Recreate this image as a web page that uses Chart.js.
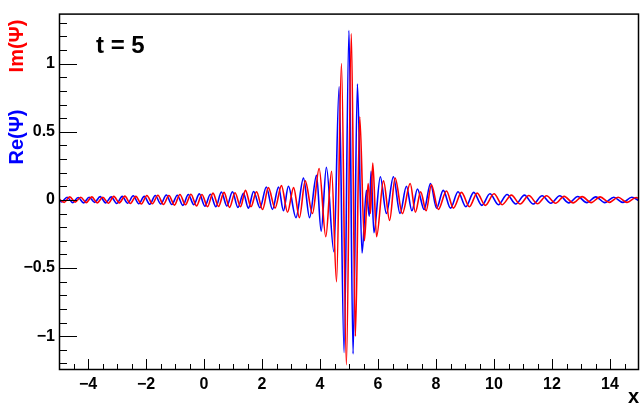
<!DOCTYPE html>
<html>
<head>
<meta charset="utf-8">
<title>Psi t = 5</title>
<script src="https://cdn.jsdelivr.net/npm/chart.js@4.4.1/dist/chart.umd.min.js"></script>
<style>
html, body { margin: 0; padding: 0; background: #fff; }
canvas { display: block; }
</style>
</head>
<body>
<canvas id="grafico" width="640" height="405"></canvas>
<script>
// Re(Psi) - extremos
const reX = [-5.00, -4.91, -4.72, -4.53, -4.34, -4.15, -3.96, -3.77, -3.58, -3.39, -3.20, -3.01, -2.82, -2.63, -2.44, -2.25,
  -2.06, -1.87, -1.68, -1.49, -1.30, -1.11, -0.92, -0.73, -0.54, -0.35, -0.16, 0.03, 0.22, 0.41, 0.60, 0.79,
  0.98, 1.17, 1.36, 1.53, 1.71, 1.93, 2.15, 2.36, 2.57, 2.74, 2.91, 3.17, 3.43, 3.64, 3.88, 4.04,
  4.22, 4.48, 4.66, 4.83, 5.00, 5.14, 5.29, 5.45, 5.60, 5.70, 5.76, 5.86, 6.08, 6.29, 6.53, 6.76,
  6.98, 7.17, 7.36, 7.59, 7.81, 8.02, 8.25, 8.50, 8.76, 9.03, 9.30, 9.58, 9.86, 10.15, 10.45, 10.75,
  11.05, 11.35, 11.66, 11.96, 12.27, 12.58, 12.89, 13.20, 13.51, 13.82, 14.13, 14.44, 14.75, 15.00];
const reY = [0.000, -0.015, 0.020, -0.020, 0.018, -0.022, 0.020, -0.018, 0.024, -0.022, 0.022, -0.026, 0.026, -0.024, 0.030, -0.028,
  0.026, -0.032, 0.032, -0.030, 0.036, -0.034, 0.034, -0.040, 0.040, -0.036, 0.044, -0.046, 0.042, -0.050, 0.058, -0.045,
  0.060, -0.055, 0.048, -0.060, 0.062, -0.058, 0.095, -0.070, 0.095, -0.080, 0.100, -0.130, 0.160, -0.130, 0.180, -0.230,
  0.240, -0.380, 0.830, -1.120, 1.245, -1.130, 0.850, -0.390, 0.070, -0.120, 0.210, -0.240, 0.170, -0.100, 0.170, -0.100,
  0.100, -0.080, 0.080, -0.070, 0.120, -0.060, 0.070, -0.060, 0.060, -0.050, 0.055, -0.040, 0.045, -0.035, 0.040, -0.030,
  0.035, -0.030, 0.030, -0.025, 0.030, -0.022, 0.025, -0.020, 0.022, -0.020, 0.020, -0.018, 0.020, -0.005];

// Im(Psi)
const imX = [-5.00, -4.82, -4.63, -4.44, -4.25, -4.06, -3.87, -3.68, -3.49, -3.30, -3.11, -2.92, -2.73, -2.54, -2.35, -2.16,
  -1.97, -1.78, -1.59, -1.40, -1.21, -1.02, -0.83, -0.64, -0.45, -0.26, -0.07, 0.12, 0.31, 0.50, 0.69, 0.88,
  1.07, 1.26, 1.43, 1.62, 1.81, 2.02, 2.22, 2.45, 2.67, 2.88, 3.09, 3.29, 3.49, 3.74, 3.97, 4.20,
  4.40, 4.57, 4.74, 4.91, 5.08, 5.22, 5.37, 5.53, 5.66, 5.74, 5.82, 5.95, 6.19, 6.40, 6.59, 6.84,
  7.11, 7.29, 7.47, 7.66, 7.84, 8.08, 8.36, 8.60, 8.88, 9.15, 9.42, 9.70, 10.00, 10.28, 10.60, 10.90,
  11.20, 11.50, 11.81, 12.12, 12.42, 12.73, 13.04, 13.35, 13.66, 13.97, 14.28, 14.59, 14.90, 15.00];
const imY = [0.008, -0.018, 0.022, -0.016, 0.020, -0.020, 0.022, -0.022, 0.020, -0.024, 0.026, -0.022, 0.028, -0.026, 0.026, -0.030,
  0.032, -0.028, 0.034, -0.034, 0.032, -0.038, 0.040, -0.036, 0.042, -0.044, 0.040, -0.050, 0.050, -0.048, 0.055, -0.055,
  0.052, -0.050, 0.070, -0.050, 0.060, -0.070, 0.090, -0.060, 0.105, -0.090, 0.090, -0.130, 0.140, -0.100, 0.230, -0.270,
  0.210, -0.600, 1.000, -1.210, 1.220, -1.000, 0.610, -0.300, 0.120, -0.100, 0.270, -0.270, 0.140, -0.150, 0.160, -0.100,
  0.120, -0.090, 0.060, -0.080, 0.110, -0.070, 0.065, -0.060, 0.055, -0.050, 0.050, -0.040, 0.045, -0.035, 0.035, -0.030,
  0.032, -0.028, 0.030, -0.025, 0.026, -0.022, 0.024, -0.020, 0.022, -0.018, 0.020, -0.018, 0.018, 0.010];

const xTicks = [-4, -2, 0, 2, 4, 6, 8, 10, 12, 14];
const yTicks = [-1, -0.5, 0, 0.5, 1];

function pontos(xs, ys) {
  return xs.map((x, i) => ({ x: x, y: ys[i] }));
}

function rotulo(v) {
  return String(v).replace('-', '\u2212');
}

const fonte = 'Liberation Sans, Arial, Helvetica, sans-serif';

// moldura e marcas estilo ROOT (para dentro)
const moldura = {
  id: 'moldura',
  afterDatasetsDraw(chart) {
    const { ctx, chartArea: a, scales } = chart;
    const sx = scales.x, sy = scales.y;
    ctx.save();
    ctx.strokeStyle = '#000';
    ctx.lineWidth = 1.5;
    ctx.strokeRect(a.left + 0.5, a.top + 0.5, a.right - a.left - 1, a.bottom - a.top - 1);
    ctx.lineWidth = 1;
    ctx.beginPath();
    for (let i = -10; i <= 30; i++) {
      const px = Math.round(sx.getPixelForValue(i / 2)) + 0.5;
      if (px <= a.left + 1 || px >= a.right - 1) continue;
      const len = (i % 4 === 0) ? 11 : 6;
      ctx.moveTo(px, a.bottom);
      ctx.lineTo(px, a.bottom - len);
    }
    for (let i = -12; i <= 13; i++) {
      const py = Math.round(sy.getPixelForValue(i / 10)) + 0.5;
      if (py <= a.top + 1 || py >= a.bottom - 1) continue;
      const len = (i % 5 === 0) ? 18 : 8;
      ctx.moveTo(a.left, py);
      ctx.lineTo(a.left + len, py);
    }
    ctx.stroke();
    ctx.restore();
  },
  afterDraw(chart) {
    const ctx = chart.ctx;
    ctx.save();
    ctx.fillStyle = '#000';
    ctx.font = 'bold 24px ' + fonte;
    ctx.textAlign = 'left';
    ctx.textBaseline = 'alphabetic';
    ctx.fillText('t = 5', 96, 53);

    ctx.font = 'bold 20px ' + fonte;
    ctx.textAlign = 'right';
    ctx.fillText('x', 639, 403);

    ctx.textAlign = 'center';
    ctx.save();
    ctx.translate(23, 46);
    ctx.rotate(-Math.PI / 2);
    ctx.fillStyle = '#ff0000';
    ctx.fillText('Im(\u03A8)', 0, 0);
    ctx.restore();
    ctx.save();
    ctx.translate(23, 137);
    ctx.rotate(-Math.PI / 2);
    ctx.fillStyle = '#0000ff';
    ctx.fillText('Re(\u03A8)', 0, 0);
    ctx.restore();
    ctx.restore();
  }
};

const ctx = document.getElementById('grafico').getContext('2d');
new Chart(ctx, {
  type: 'line',
  data: {
    datasets: [
      {
        label: 'Im(\u03A8)',
        data: pontos(imX, imY),
        borderColor: '#ff0000',
        borderWidth: 1.6,
        pointRadius: 0,
        cubicInterpolationMode: 'monotone',
        fill: false
      },
      {
        label: 'Re(\u03A8)',
        data: pontos(reX, reY),
        borderColor: '#0000ff',
        borderWidth: 1.6,
        pointRadius: 0,
        cubicInterpolationMode: 'monotone',
        fill: false
      }
    ]
  },
  options: {
    responsive: false,
    animation: false,
    devicePixelRatio: 1,
    layout: { padding: { top: 6, right: 1, left: 0, bottom: 0 } },
    plugins: { legend: { display: false }, tooltip: { enabled: false } },
    scales: {
      x: {
        type: 'linear',
        min: -5,
        max: 15,
        grid: { display: false, drawTicks: false },
        border: { display: false },
        afterBuildTicks: s => { s.ticks = xTicks.map(v => ({ value: v })); },
        afterFit: s => { s.height = 35; },
        ticks: {
          autoSkip: false,
          maxRotation: 0,
          padding: 5,
          color: '#000',
          font: { family: fonte, size: 16, weight: 'bold' },
          callback: v => rotulo(v)
        }
      },
      y: {
        type: 'linear',
        min: -1.248,
        max: 1.367,
        grid: { display: false, drawTicks: false },
        border: { display: false },
        afterBuildTicks: s => { s.ticks = yTicks.map(v => ({ value: v })); },
        afterFit: s => { s.width = 59; },
        ticks: {
          autoSkip: false,
          padding: 4,
          color: '#000',
          font: { family: fonte, size: 16, weight: 'bold' },
          callback: v => rotulo(v)
        }
      }
    }
  },
  plugins: [moldura]
});
</script>
</body>
</html>
